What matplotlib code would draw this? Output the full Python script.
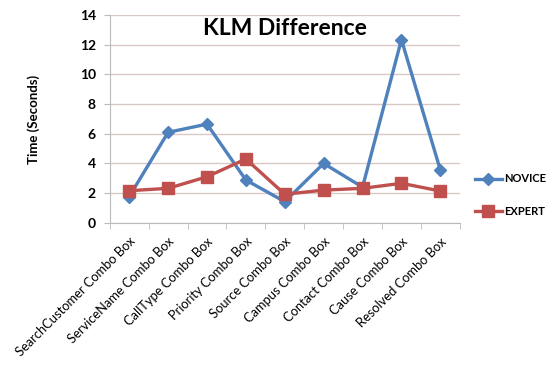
import matplotlib
matplotlib.use("Agg")
import matplotlib.pyplot as plt

categories = ["SearchCustomer Combo Box", "ServiceName Combo Box", "CallType Combo Box",
              "Priority Combo Box", "Source Combo Box", "Campus Combo Box",
              "Contact Combo Box", "Cause Combo Box", "Resolved Combo Box"]
novice = [1.76, 6.1, 6.65, 2.88, 1.42, 4.0, 2.4, 12.35, 3.56]
expert = [2.16, 2.32, 3.1, 4.3, 1.92, 2.2, 2.32, 2.66, 2.14]
yticks = [0, 2, 4, 6, 8, 10, 12, 14]

plt.rcParams['font.family'] = ['Lato', 'DejaVu Sans']

fig = plt.figure(figsize=(5.6, 3.7), dpi=100)
ax = fig.add_axes([0.196, 0.398, 0.625, 0.561])

x = list(range(len(categories)))
ax.plot(x, novice, color="#4F81BD", lw=2.4, marker="D", ms=6.5, label="NOVICE")
ax.plot(x, expert, color="#C0504D", lw=2.4, marker="s", ms=8, label="EXPERT")

ax.set_xlim(-0.5, len(categories) - 0.5)
ax.set_ylim(0, 14)
ax.set_yticks(yticks)
ax.set_yticklabels([str(v) for v in yticks], fontweight="bold", fontsize=10)
ax.yaxis.grid(True, color="#d8c8c6", lw=1)
ax.set_axisbelow(True)

ax.set_xticks(x)
ax.set_xticklabels(categories, rotation=45, ha="right", rotation_mode="anchor", fontsize=9.3)
ax.tick_params(axis="x", length=0, pad=9)
ax.set_xticks([i - 0.5 for i in range(len(categories) + 1)], minor=True)
ax.tick_params(axis="x", which="minor", length=4, color="#bbbbbb", direction="out")
ax.tick_params(axis="y", length=4, color="#bbbbbb", direction="out", pad=6)

for s in ["top", "right"]:
    ax.spines[s].set_visible(False)
ax.spines["left"].set_color("#bbbbbb")
ax.spines["bottom"].set_color("#bbbbbb")

ax.set_ylabel("Time (Seconds)", fontweight="bold", fontsize=9.5)
ax.yaxis.set_label_coords(-0.2, 0.5)
ax.text(0.5, 0.985, "KLM Difference", transform=ax.transAxes, ha="center", va="top",
        fontsize=16.5, fontweight="bold")

leg = fig.legend(loc="center left", bbox_to_anchor=(0.84, 0.473), frameon=False,
                 prop={"weight": "bold", "size": 8}, handlelength=2.4, handletextpad=0.2,
                 labelspacing=1.9, borderaxespad=0)

fig.savefig("out.png", dpi=100)
